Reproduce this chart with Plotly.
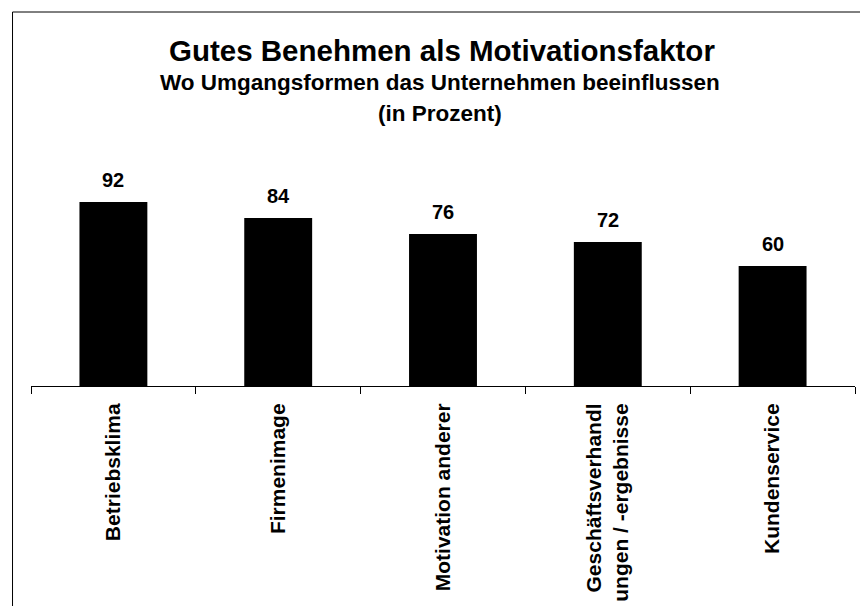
import plotly.graph_objects as go

categories = ["Betriebsklima", "Firmenimage", "Motivation anderer",
              "Geschäftsverhandl<br>ungen / -ergebnisse", "Kundenservice"]
values = [92, 84, 76, 72, 60]
title = "Gutes Benehmen als Motivationsfaktor"
subtitle1 = "Wo Umgangsformen das Unternehmen beeinflussen"
subtitle2 = "(in Prozent)"

FONT = "Liberation Sans, Arial, sans-serif"

FW, FH = 868, 606
L, R, T, B = 22.5, 20.5, 178, 228
W = FW - L - R
H = FH - T - B

def py(px):
    return (FH - B - px) / H

def pxx(px):
    return (px - L) / W

fig = go.Figure()
fig.add_trace(go.Bar(
    x=categories, y=values,
    marker=dict(color="black", line=dict(width=0)),
    hoverinfo="skip",
))

# value labels
for c, v in zip(categories, values):
    fig.add_annotation(x=c, y=v, text=f"<b>{v}</b>", showarrow=False,
                       yanchor="bottom", yshift=9,
                       font=dict(family=FONT, size=20, color="black"))

# titles
fig.add_annotation(xref="paper", yref="paper", x=pxx(434), y=py(42), yanchor="middle",
                   text=f"<b>{title}</b>", showarrow=False,
                   font=dict(family=FONT, size=29.5, color="black"))
fig.add_annotation(xref="paper", yref="paper", x=pxx(432), y=py(74), yanchor="middle",
                   text=f"<b>{subtitle1}</b>", showarrow=False,
                   font=dict(family=FONT, size=22.5, color="black"))
fig.add_annotation(xref="paper", yref="paper", x=pxx(432), y=py(105), yanchor="middle",
                   text=f"<b>{subtitle2}</b>", showarrow=False,
                   font=dict(family=FONT, size=22.5, color="black"))

# outer frame
fig.add_shape(type="rect", xref="paper", yref="paper",
              x0=pxx(4), x1=pxx(864), y0=py(4), y1=py(602),
              line=dict(color="black", width=1), fillcolor="rgba(0,0,0,0)")

fig.update_layout(
    width=FW, height=FH,
    margin=dict(l=L, r=R, t=T, b=B, autoexpand=False),
    paper_bgcolor="white", plot_bgcolor="white",
    bargap=0.588,
    showlegend=False,
    font=dict(family=FONT, color="black"),
    xaxis=dict(
        showline=True, linecolor="black", linewidth=1,
        ticks="outside", ticklen=7, tickcolor="black", tickwidth=1,
        tickson="boundaries", tickangle=-90, ticklabelstandoff=8,
        tickfont=dict(family=FONT, size=21, color="black", weight="bold"),
        showgrid=False, zeroline=False,
    ),
    yaxis=dict(range=[0, 100], visible=False, showgrid=False, zeroline=False),
)

fig.write_html("out.html")
